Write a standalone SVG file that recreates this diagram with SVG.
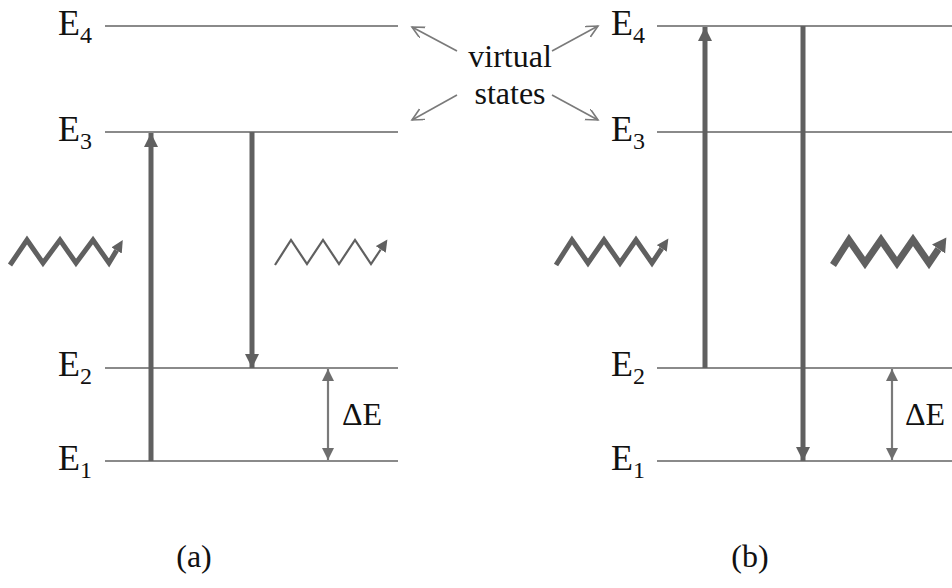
<svg xmlns="http://www.w3.org/2000/svg" width="952" height="588" viewBox="0 0 952 588">
<style>
.lvl{stroke:#8a8a8a;stroke-width:2;fill:none}
.thick{stroke:#606060;stroke-width:5;fill:none}
.thin{stroke:#7a7a7a;stroke-width:2.2;fill:none}
.va{stroke:#7a7a7a;stroke-width:1.6;fill:none}
.lbl{font-family:"Liberation Serif","Times New Roman",serif;font-size:36px;fill:#111}
.sub{font-size:24px}
.txt{font-family:"Liberation Serif","Times New Roman",serif;font-size:32px;fill:#111}
.zz{stroke:#606060;fill:none;stroke-linejoin:miter}
</style>
<defs>
<marker id="ah" markerUnits="userSpaceOnUse" markerWidth="16" markerHeight="16" refX="14" refY="7" orient="auto"><path d="M0,0 L14,7 L0,14 z" fill="#606060"/></marker>
<marker id="ahs" markerUnits="userSpaceOnUse" markerWidth="14" markerHeight="14" refX="12" refY="6" orient="auto-start-reverse"><path d="M0,0 L12,6 L0,12 z" fill="#6e6e6e"/></marker>
<marker id="zh" markerUnits="userSpaceOnUse" markerWidth="14" markerHeight="14" refX="0" refY="6" orient="auto"><path d="M0,0 L12,6 L0,12 z" fill="#606060"/></marker>
<marker id="zhb" markerUnits="userSpaceOnUse" markerWidth="18" markerHeight="18" refX="0" refY="8" orient="auto"><path d="M0,0 L14,8 L0,16 z" fill="#606060"/></marker>
<marker id="oa" markerUnits="userSpaceOnUse" markerWidth="14" markerHeight="14" refX="12" refY="6" orient="auto"><path d="M0,0 L12,6 L0,12" fill="none" stroke="#7a7a7a" stroke-width="1.6"/></marker>
</defs>

<g id="panel-a-levels">
<g id="a-E4"><line class="lvl" x1="105" y1="26" x2="398" y2="26"/><text class="lbl" x="58" y="35">E<tspan class="sub" dy="8">4</tspan></text></g>
<g id="a-E3"><line class="lvl" x1="105" y1="132" x2="398" y2="132"/><text class="lbl" x="58" y="141">E<tspan class="sub" dy="8">3</tspan></text></g>
<g id="a-E2"><line class="lvl" x1="105" y1="368" x2="398" y2="368"/><text class="lbl" x="58" y="376">E<tspan class="sub" dy="8">2</tspan></text></g>
<g id="a-E1"><line class="lvl" x1="105" y1="461" x2="398" y2="461"/><text class="lbl" x="58" y="470">E<tspan class="sub" dy="8">1</tspan></text></g>
</g>

<g id="panel-b-levels">
<g id="b-E4"><line class="lvl" x1="657" y1="26" x2="952" y2="26"/><text class="lbl" x="611" y="35">E<tspan class="sub" dy="8">4</tspan></text></g>
<g id="b-E3"><line class="lvl" x1="657" y1="132" x2="952" y2="132"/><text class="lbl" x="611" y="141">E<tspan class="sub" dy="8">3</tspan></text></g>
<g id="b-E2"><line class="lvl" x1="657" y1="368" x2="952" y2="368"/><text class="lbl" x="611" y="376">E<tspan class="sub" dy="8">2</tspan></text></g>
<g id="b-E1"><line class="lvl" x1="657" y1="461" x2="952" y2="461"/><text class="lbl" x="611" y="470">E<tspan class="sub" dy="8">1</tspan></text></g>
</g>

<g id="virtual-states">
<text class="txt" x="510" y="67" text-anchor="middle">virtual</text>
<text class="txt" x="510" y="104" text-anchor="middle">states</text>
</g>

<g id="connectors">
<line class="thick" x1="151" y1="461" x2="151" y2="133" marker-end="url(#ah)"/>
<line class="thick" x1="252" y1="132" x2="252" y2="368" marker-end="url(#ah)"/>
<line class="thin" x1="328" y1="369" x2="328" y2="460" marker-start="url(#ahs)" marker-end="url(#ahs)"/>
<line class="thick" x1="705" y1="368" x2="705" y2="27" marker-end="url(#ah)"/>
<line class="thick" x1="803" y1="26" x2="803" y2="461" marker-end="url(#ah)"/>
<line class="thin" x1="892" y1="369" x2="892" y2="460" marker-start="url(#ahs)" marker-end="url(#ahs)"/>
<line class="va" x1="457" y1="51" x2="412" y2="27" marker-end="url(#oa)"/>
<line class="va" x1="552" y1="51" x2="598" y2="26" marker-end="url(#oa)"/>
<line class="va" x1="457" y1="95" x2="412" y2="120" marker-end="url(#oa)"/>
<line class="va" x1="552" y1="95" x2="598" y2="120" marker-end="url(#oa)"/>
<polyline class="zz" stroke-width="5" points="10,265 27,240 43,263 60,240 76,263 93,240 109,263 116.6,250.4" marker-end="url(#zh)"/>
<polyline class="zz" stroke-width="2.2" points="275,265 291,240 307,264 323,240 339,264 355,240 371,264 380.7,249.5" marker-end="url(#zh)"/>
<polyline class="zz" stroke-width="5" points="556,265 572,240 588,263 604,240 620,263 636,240 652,263 661.7,248.5" marker-end="url(#zh)"/>
<polyline class="zz" stroke-width="7" stroke-linejoin="bevel" points="833,265 849,240 865,263 881,240 897,263 913,240 929,263 938.5,249" marker-end="url(#zhb)"/>
</g>

<g id="labels">
<text class="txt" x="342" y="425" font-size="34">ΔE</text>
<text class="txt" x="905" y="425" font-size="34">ΔE</text>
<text class="txt" x="194" y="567" text-anchor="middle">(a)</text>
<text class="txt" x="750" y="567" text-anchor="middle">(b)</text>
</g>
</svg>
